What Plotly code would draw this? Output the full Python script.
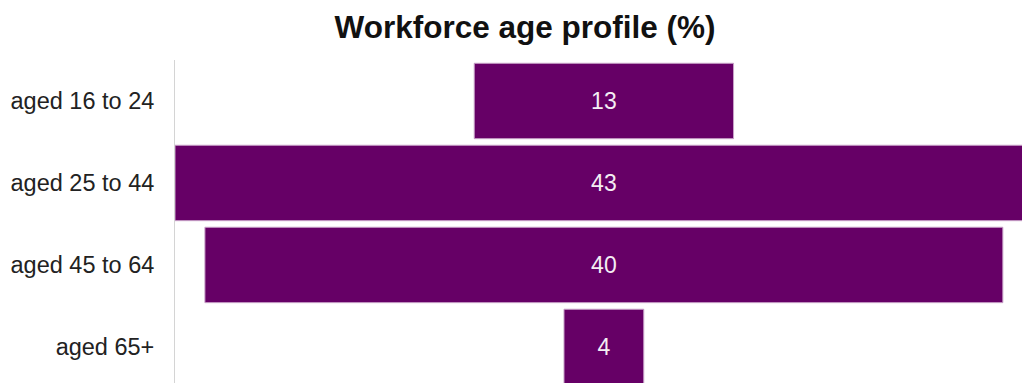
import plotly.graph_objects as go

# Workforce age profile, share of workers per age band (%)
age_bands = ["aged 16 to 24", "aged 25 to 44", "aged 45 to 64", "aged 65+"]
share_pct = [13, 43, 40, 4]

BAR_COLOUR = "#660066"
FONT = "Liberation Sans, Arial, sans-serif"

fig = go.Figure(
    go.Funnel(
        y=age_bands,
        x=share_pct,
        textinfo="value",
        textposition="inside",
        insidetextfont=dict(family=FONT, size=23, color="#f4eef4"),
        marker=dict(color=BAR_COLOUR, line=dict(color="#c9a3c9", width=1)),
        connector=dict(visible=False),
        hoverinfo="y+x",
    )
)

fig.update_layout(
    width=1022,
    height=383,
    margin=dict(l=175, r=0, t=60, b=0),
    paper_bgcolor="white",
    plot_bgcolor="white",
    funnelgap=0.08,
    showlegend=False,
    font=dict(family=FONT, color="#222222"),
    title=dict(
        text="<b>Workforce age profile (%)</b>",
        x=525 / 1022,
        xanchor="center",
        y=1 - 27 / 383,
        yanchor="middle",
        font=dict(family=FONT, size=31.5, color="#111111"),
    ),
    xaxis=dict(visible=False, range=[-21.5, 20.96], fixedrange=True),
    yaxis=dict(
        range=[3.44, -0.5],
        showline=True,
        linecolor="#d4d4d4",
        linewidth=1,
        showgrid=False,
        zeroline=False,
        ticks="",
        ticklabelstandoff=15,
        tickfont=dict(family=FONT, size=23.5, color="#222222"),
    ),
)

fig.write_html("out.html")
